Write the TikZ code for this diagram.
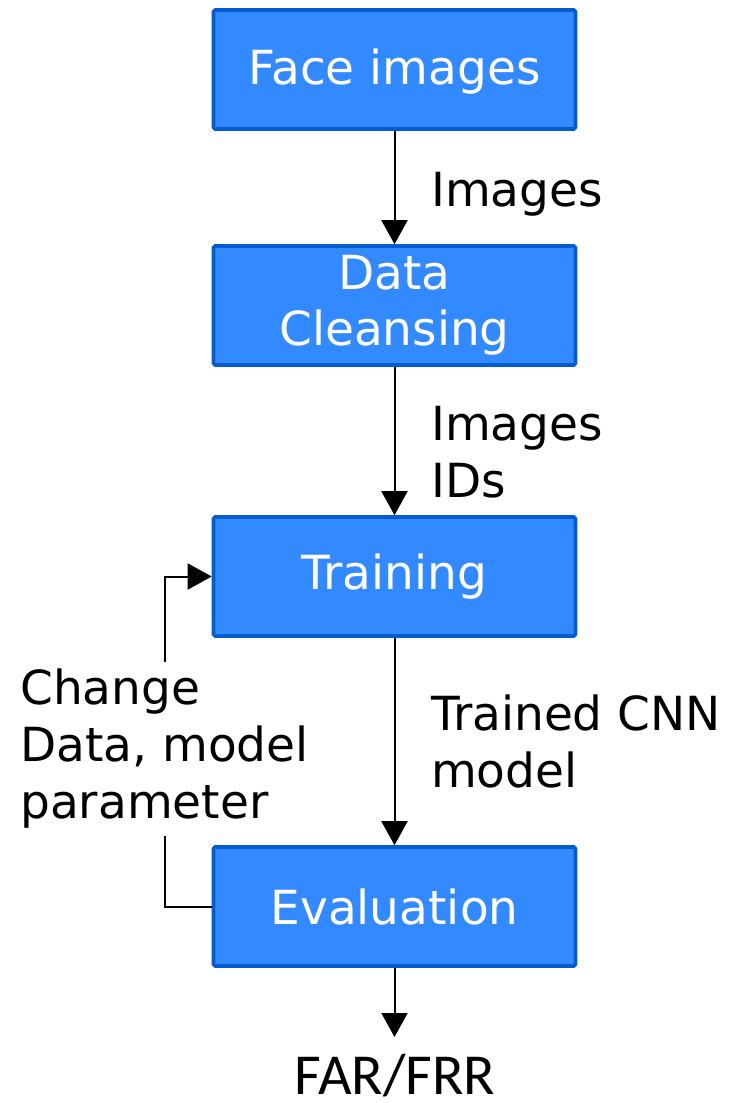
\documentclass[tikz,border=0pt]{standalone}
\usepackage{fontspec}
\setmainfont{DejaVu Sans}
\newfontfamily\resfont{Carlito}
\usetikzlibrary{arrows.meta}
\definecolor{boxfill}{RGB}{51,137,255}
\definecolor{boxline}{RGB}{5,92,204}
\begin{document}
\begin{tikzpicture}[x=0.5pt,y=-0.5pt,
  stage/.style={draw=boxline,line width=1.8pt,fill=boxfill,text=white,
    minimum width=181pt,minimum height=59.5pt,align=center,rounded corners=0.8pt,
    font=\fontsize{23.5}{28}\selectfont},
  lbl/.style={anchor=west,align=left,font=\fontsize{23.5}{28.5}\selectfont},
  flow/.style={line width=1pt,-{Triangle[width=13pt,length=12pt]}}]
\useasboundingbox (0,0) rectangle (732,1103);
\node[stage,text height=20pt](face) at (394.5,69.5){Face images};
\node[stage](clean) at (394.5,305.5){\rule{0pt}{12pt}Data\\Cleansing};
\node[stage](train) at (394.5,576.5){Training};
\node[stage](eval) at (394.5,906.5){Evaluation};
\coordinate (out) at (394.5,1037);
\node[font=\resfont\fontsize{29}{34}\selectfont](far) at (395,1076){FAR/FRR};
\draw[flow](face)--(clean)node[lbl,midway,xshift=14.5pt,yshift=-3.5pt]{Images};
\draw[flow](clean)--(train)node[lbl,midway,xshift=14.5pt,yshift=-5.5pt]{Images\\IDs};
\draw[flow](train)--(eval)node[lbl,midway,xshift=14.5pt]{Trained CNN\\model};
\draw[flow](eval)--(out);
% feedback loop back into training
\node[align=left,font=\fontsize{23.5}{28.5}\selectfont](chg) at (164.5,749){Change\\Data, model\\parameter};
\draw[line width=1pt](eval.west)-|(chg.south);
\draw[flow](chg.north)|-(train.west);
\end{tikzpicture}
\end{document}
